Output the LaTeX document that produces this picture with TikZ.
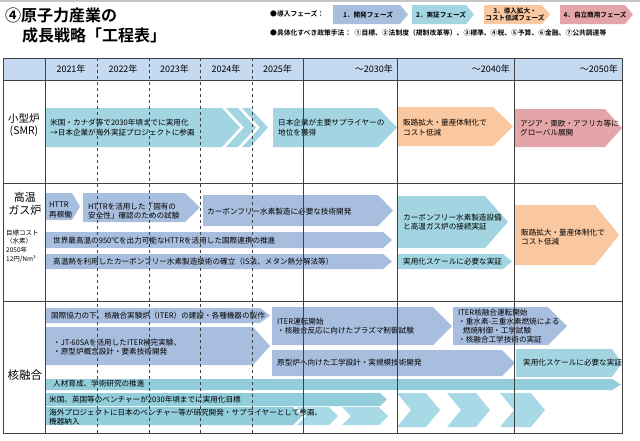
\documentclass[tikz,border=0pt]{standalone}
\usepackage{fontspec}
\setmainfont{Noto Sans CJK JP}[BoldFont={Noto Sans CJK JP Bold}]
\definecolor{devb}{HTML}{A8BEDE}
\definecolor{lbl}{HTML}{A2D4E2}
\definecolor{teal1}{HTML}{92CDDC}
\definecolor{lbl2}{HTML}{A8D9E6}
\definecolor{orng}{HTML}{FAC8A0}
\definecolor{pnk}{HTML}{E4A5A8}
\definecolor{hdr}{HTML}{C5D9F1}
\definecolor{gridc}{HTML}{404040}
\newcommand\abox[6]{\fill[#6] (#1,#2) -- (#3,#2) -- (#4,{(#2+#5)/2}) -- (#3,#5) -- (#1,#5) -- cycle;}
\newcommand\chevr[7]{\fill[#7] (#1,#2) -- (#3,#2) -- (#4,{(#2+#5)/2}) -- (#3,#5) -- (#1,#5) -- (#6,{(#2+#5)/2}) -- cycle;}
\tikzset{
  txt/.style={anchor=west, align=left, inner sep=0pt, font=\fontsize{7.6}{9.5}\selectfont},
  hd/.style={inner sep=0pt, font=\fontsize{9}{10}\selectfont},
  lab/.style={align=center, inner sep=0pt, font=\fontsize{10.5}{12.5}\selectfont},
  leg/.style={inner sep=0pt, align=center, font=\fontsize{6.6}{7.6}\selectfont\bfseries},
  solidln/.style={draw=gridc, line width=0.7pt},
  dashln/.style={draw=gridc, line width=0.7pt, dash pattern=on 3pt off 3pt},
}
\begin{document}
\begin{tikzpicture}[x=1pt,y=-1pt]
\useasboundingbox (0,0) rectangle (640,440);
\fill[white] (0,0) rectangle (640,440);
\draw[gray!45, line width=1.5pt] (0,1) -- (640,1);
% title
\node[anchor=west, inner sep=0pt, font=\fontsize{16}{18}\selectfont\bfseries] (t1) at (5,15) {④原子力産業の};
\node[anchor=west, inner sep=0pt, font=\fontsize{16}{18}\selectfont\bfseries] (t2) at (22,35) {成長戦略「工程表」};
% legend
\node[anchor=west, inner sep=0pt, font=\fontsize{6.8}{8}\selectfont\bfseries] (lg1) at (270,14) {●導入フェーズ：};
\abox{333}{5}{400}{408}{24}{devb}
\abox{412}{5}{466}{474}{24}{lbl}
\abox{484}{5}{542}{550}{24}{orng}
\abox{560}{5}{625}{633}{24}{pnk}
\node[leg] (ph1) at (368,14.5) {1．開発フェーズ};
\node[leg] (ph2) at (441,14.5) {2．実証フェーズ};
\node[leg] (ph3) at (515,14.5) {3．導入拡大・\\コスト低減フェーズ};
\node[leg] (ph4) at (595,14.5) {4．自立商用フェーズ};
\node[anchor=west, inner sep=0pt, font=\fontsize{6.8}{8}\selectfont\bfseries] (lg2) at (270,33) {●具体化すべき政策手法：\enspace ①目標、②法制度（規制改革等）、③標準、④税、⑤予算、⑥金融、⑦公共調達等};
% header
\fill[hdr] (3,58) rectangle (622,80);
\node[hd] (y21) at (71,69) {2021年};
\node[hd] (y22) at (123,69) {2022年};
\node[hd] (y23) at (174.5,69) {2023年};
\node[hd] (y24) at (226,69) {2024年};
\node[hd] (y25) at (277.5,69) {2025年};
\node[hd, anchor=east] (y30) at (393,69) {～2030年};
\node[hd, anchor=east] (y40) at (510,69) {～2040年};
\node[hd, anchor=east] (y50) at (618,69) {～2050年};
% row labels
\node[lab] (smr) at (24,125) {小型炉\\(SMR)};
\node[lab, font=\fontsize{11}{13}\selectfont] (htgr) at (25,204) {高温\\ガス炉};
\node[anchor=west, align=left, inner sep=0pt, font=\fontsize{6.5}{8.6}\selectfont] (cost) at (6,246) {目標コスト\\（水素）\\2050年\\12円/Nm³};
\node[lab, font=\fontsize{11.5}{13}\selectfont] (fus) at (25,375) {核融合};
% SMR
\abox{45}{108}{222}{240}{147}{lbl}
\chevr{226}{108}{238}{256}{147}{244}{lbl}
\chevr{242}{108}{250}{268}{147}{260}{lbl}
\abox{273}{108}{378}{397}{147}{lbl}
\abox{397}{107}{493}{513}{146}{orng}
\abox{514}{109}{605}{622}{147}{pnk}
\node[txt] (s1) at (50,127.5) {米国・カナダ等で2030年頃までに実用化\\→日本企業が海外実証プロジェクトに参画};
\node[txt] (s2) at (278,127.5) {日本企業が主要サプライヤーの\\地位を獲得};
\node[txt] (s3) at (403,127.5) {販路拡大・量産体制化で\\コスト低減};
\node[txt] (s4) at (520,128) {アジア・東欧・アフリカ等に\\グローバル展開};
% HTGR
\abox{45}{193}{72}{80}{220}{devb}
\abox{83}{193}{185}{200}{222}{devb}
\abox{203}{195}{378}{393}{226}{devb}
\abox{45}{232}{383}{392}{248}{devb}
\abox{45}{254}{383}{392}{269}{devb}
\abox{398}{196}{485}{508}{248}{lbl}
\abox{398}{254}{503}{512}{269}{lbl}
\abox{514}{205}{595}{619}{265}{orng}
\node[txt] (h1) at (49,210) {HTTR\\再稼働};
\node[txt] (h2) at (88,211) {HTTRを活用した「固有の\\安全性」確認のための試験};
\node[txt] (h3) at (207,212) {カーボンフリー水素製造に必要な技術開発};
\node[txt] (h4) at (53,241) {世界最高温の950℃を出力可能なHTTRを活用した国際連携の推進};
\node[txt] (h5) at (53,262) {高温熱を利用したカーボンフリー水素製造技術の確立（IS法、メタン熱分解法等）};
\node[txt] (h6) at (403,222) {カーボンフリー水素製造設備\\と高温ガス炉の接続実証};
\node[txt] (h7) at (403,262) {実用化スケールに必要な実証};
\node[txt] (h8) at (521,237) {販路拡大・量産体制化で\\コスト低減};
% Fusion
\abox{45}{308}{260}{270}{323}{devb}
\abox{45}{327}{253}{270}{365}{devb}
\abox{272}{307}{433}{452}{345}{devb}
\abox{453}{307}{548}{567}{345}{devb}
\abox{272}{350}{502}{515}{376}{devb}
\abox{516}{349}{612}{622}{377}{lbl}
\abox{45}{379}{612}{621}{390}{teal1}
\abox{45}{393}{380}{387}{406}{teal1}
\abox{45}{407}{293}{302}{425}{teal1}
\chevr{297}{407}{329}{338}{425}{306}{lbl2}
\chevr{342}{407}{379}{388}{425}{351}{lbl2}
\chevr{397}{393}{426}{440}{427}{411}{lbl2}
\chevr{447}{393}{476}{490}{427}{461}{lbl2}
\chevr{500}{393}{531}{545}{427}{514}{lbl2}
\node[txt] (f1) at (51,316) {国際協力の下、核融合実験炉（ITER）の建設・各種機器の製作};
\node[txt] (f2) at (53,347) {・JT-60SAを活用したITER補完実験、\\・原型炉概念設計・要素技術開発};
\node[txt] (f3) at (277,326) {ITER運転開始\\・核融合反応に向けたプラズマ制御試験};
\node[txt, font=\fontsize{7.6}{9}\selectfont] (f4) at (458,326.5) {ITER核融合運転開始\\・重水素-三重水素燃焼による\\\hspace*{0.6em}燃焼制御・工学試験\\・核融合工学技術の実証};
\node[txt] (f5) at (277,363) {原型炉へ向けた工学設計・実規模技術開発};
\node[txt] (f6) at (523,363) {実用化スケールに必要な実証};
\node[txt] (f7) at (53,384) {人材育成、学術研究の推進};
\node[txt] (f8) at (49,400) {米国、英国等のベンチャーが2030年頃までに実用化目標};
\node[txt] (f9) at (49,417) {海外プロジェクトに日本のベンチャー等が研究開発・サプライヤーとして参画、\\機器納入};
% grid
\foreach \xx in {97,149,200,252} \draw[dashln] (\xx,58) -- (\xx,433);
\foreach \xx in {45,303,397,514} \draw[solidln] (\xx,58) -- (\xx,433);
\foreach \yy in {80,183,301} \draw[solidln] (3,\yy) -- (622,\yy);
\draw[solidln] (3,58) rectangle (622,433);
\end{tikzpicture}
\end{document}
